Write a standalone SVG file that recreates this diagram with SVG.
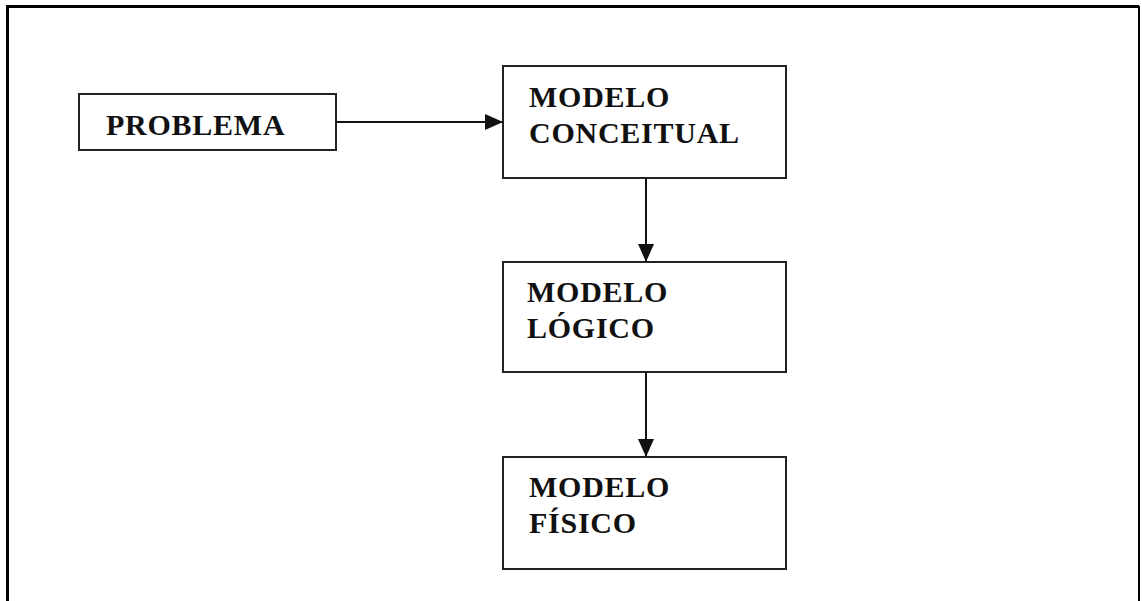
<svg xmlns="http://www.w3.org/2000/svg" width="1142" height="601" viewBox="0 0 1142 601">
<defs>
<style>
.box{fill:#fff;stroke:#222;stroke-width:2}
.lbl{font-family:"Liberation Serif","Times New Roman",serif;font-weight:bold;font-size:30px;letter-spacing:0.75px;fill:#111}
.con{stroke:#111;stroke-width:2;fill:none}
</style>
<marker id="ah" markerWidth="18" markerHeight="18" refX="18" refY="9" orient="auto" markerUnits="userSpaceOnUse">
<path d="M0,1 L18,9 L0,17 Z" fill="#111"/>
</marker>
</defs>
<rect width="1142" height="601" fill="#fff"/>
<path d="M7.5,601 V6.5 H1139" fill="none" stroke="#000" stroke-width="3"/>
<line x1="1139" y1="6" x2="1139" y2="601" stroke="#000" stroke-width="2"/>
<g id="problema">
<rect class="box" x="79" y="94" width="257" height="56"/>
<text class="lbl" x="106" y="135">PROBLEMA</text>
</g>
<g id="conceitual">
<rect class="box" x="503" y="66" width="283" height="112"/>
<text class="lbl" x="529" y="107">MODELO</text>
<text class="lbl" x="529" y="143">CONCEITUAL</text>
</g>
<g id="logico">
<rect class="box" x="503" y="262" width="283" height="110"/>
<text class="lbl" x="527" y="302">MODELO</text>
<text class="lbl" x="527" y="338">LÓGICO</text>
</g>
<g id="fisico">
<rect class="box" x="503" y="457" width="283" height="112"/>
<text class="lbl" x="529" y="497">MODELO</text>
<text class="lbl" x="529" y="533">FÍSICO</text>
</g>
<g id="connectors">
<line class="con" x1="336" y1="122" x2="503" y2="122" marker-end="url(#ah)"/>
<line class="con" x1="646" y1="178" x2="646" y2="262" marker-end="url(#ah)"/>
<line class="con" x1="646" y1="372" x2="646" y2="457" marker-end="url(#ah)"/>
</g>
</svg>
